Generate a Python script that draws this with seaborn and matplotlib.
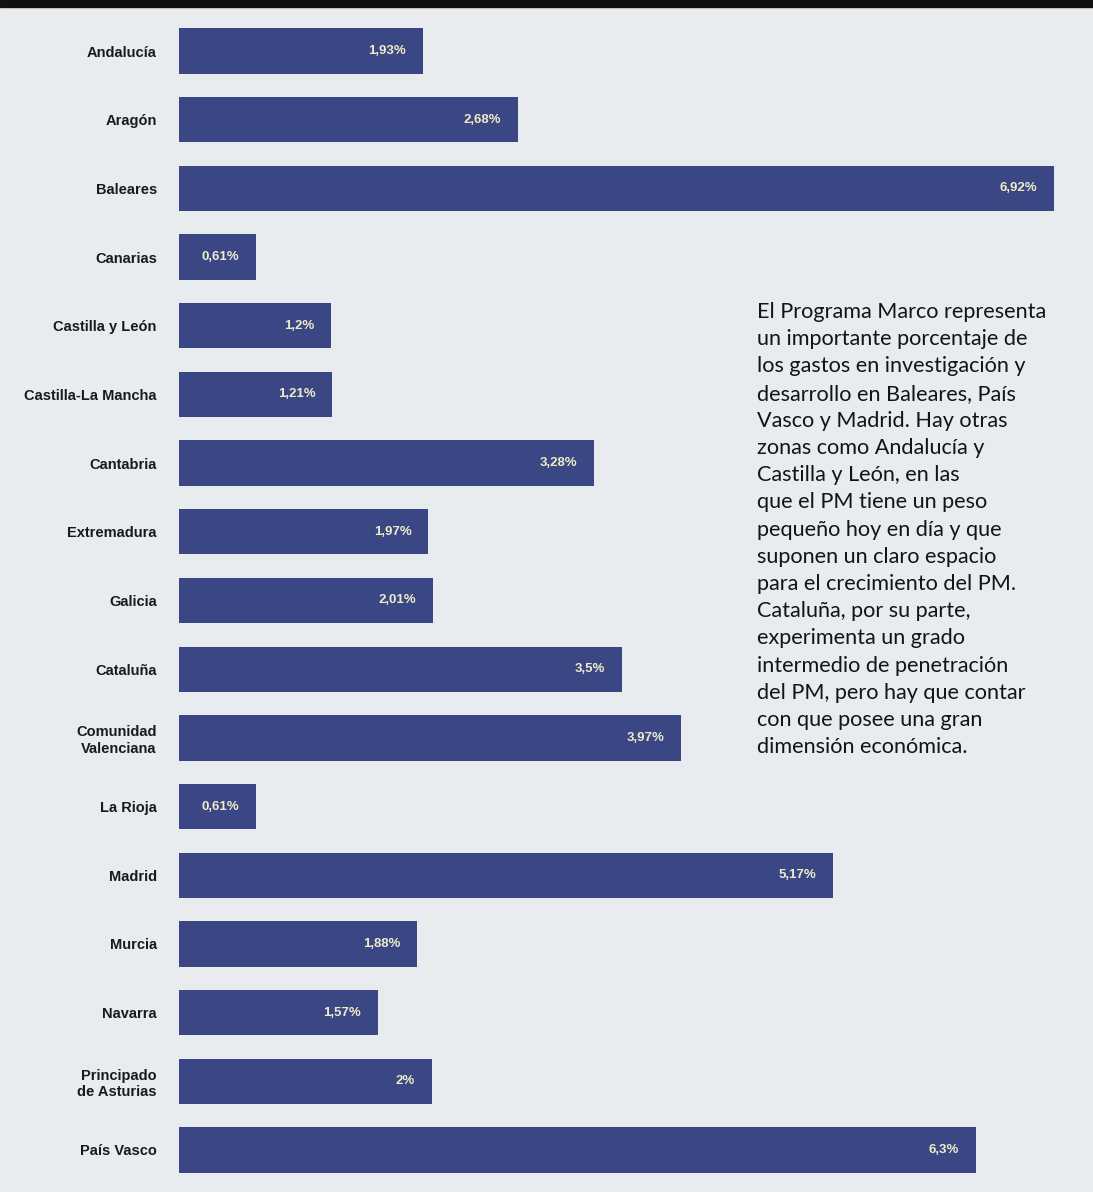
import matplotlib
matplotlib.use("Agg")
import matplotlib.pyplot as plt
import seaborn as sns
import pandas as pd

regions = ["Andalucía", "Aragón", "Baleares", "Canarias", "Castilla y León",
           "Castilla-La Mancha", "Cantabria", "Extremadura", "Galicia", "Cataluña",
           "Comunidad\nValenciana", "La Rioja", "Madrid", "Murcia", "Navarra",
           "Principado\nde Asturias", "País Vasco"]
values = [1.93, 2.68, 6.92, 0.61, 1.2, 1.21, 3.28, 1.97, 2.01, 3.5,
          3.97, 0.61, 5.17, 1.88, 1.57, 2.0, 6.3]
value_labels = ["1,93%", "2,68%", "6,92%", "0,61%", "1,2%", "1,21%", "3,28%", "1,97%",
                "2,01%", "3,5%", "3,97%", "0,61%", "5,17%", "1,88%", "1,57%", "2%", "6,3%"]

note = ("El Programa Marco representa\nun importante porcentaje de\n"
        "los gastos en investigación y\ndesarrollo en Baleares, País\n"
        "Vasco y Madrid. Hay otras\nzonas como Andalucía y\n"
        "Castilla y León, en las\nque el PM tiene un peso\n"
        "pequeño hoy en día y que\nsuponen un claro espacio\n"
        "para el crecimiento del PM.\nCataluña, por su parte,\n"
        "experimenta un grado\nintermedio de penetración\n"
        "del PM, pero hay que contar\ncon que posee una gran\n"
        "dimensión económica.")

df = pd.DataFrame({"region": regions, "value": values})

sns.set_theme(style="white")
plt.rcParams["font.family"] = ["Liberation Sans", "DejaVu Sans"]

bg = "#e9ecef"
bar_color = "#3b4684"

W, H = 1093, 1192
fig = plt.figure(figsize=(W / 100, H / 100), dpi=100, facecolor=bg)
left = 179 / W
right = 1054 / W
top = 1 - 16.7 / H
bottom = 1 - 1184.3 / H
ax = fig.add_axes([left, bottom, right - left, top - bottom])
ax.set_facecolor(bg)

sns.barplot(data=df, x="value", y="region", color=bar_color, width=0.66,
            saturation=1, ax=ax, orient="h", linewidth=0, edgecolor="none")

ax.set_xlim(0, 6.92)
ax.set_ylim(16.5, -0.5)
ax.set_xlabel("")
ax.set_ylabel("")
ax.set_xticks([])
for s in ax.spines.values():
    s.set_visible(False)
ax.tick_params(axis="y", length=0, pad=16)
for lbl in ax.get_yticklabels():
    lbl.set_fontweight("bold")
    lbl.set_fontsize(10.5)
    lbl.set_color("#1a1a1a")
    lbl.set_multialignment("right")

for i, (v, t) in enumerate(zip(values, value_labels)):
    ax.annotate(t, xy=(v, i), xytext=(-12, 0), textcoords="offset points",
                ha="right", va="center", fontsize=9.5, fontweight="bold",
                color="#eeecc8")

# black band on top
fig.patches.append(plt.Rectangle((0, 1 - 7 / H), 1, 7 / H, transform=fig.transFigure,
                                 color="#111111", zorder=10))

fig.text(757 / W, 1 - 302 / H, note, ha="left", va="top", fontsize=15.6,
         family=["Lato", "DejaVu Sans"], color="#141414", linespacing=1.45)

fig.savefig("out.png", dpi=100, facecolor=bg)
